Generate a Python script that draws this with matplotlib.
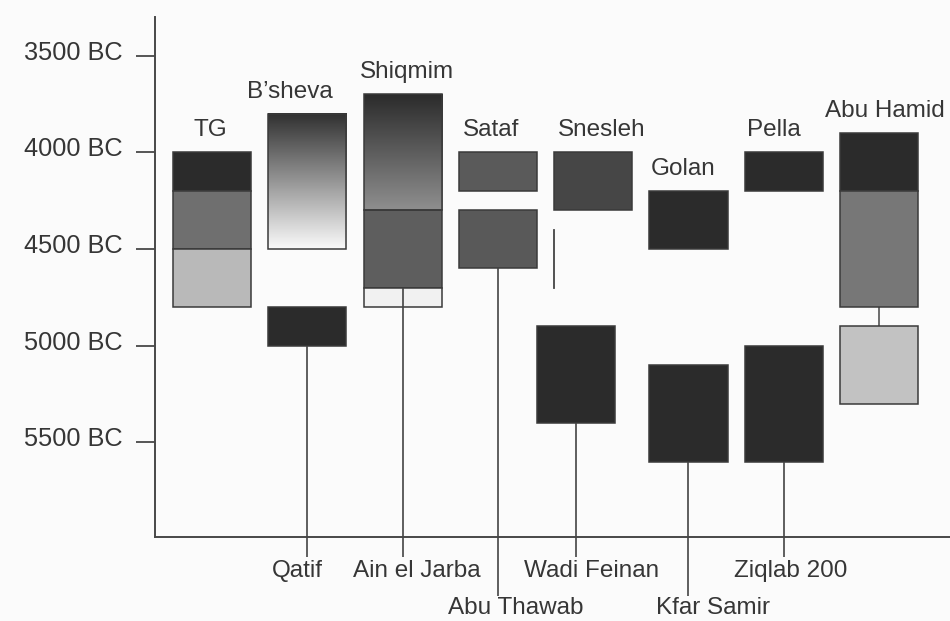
import matplotlib
matplotlib.use('Agg')
import matplotlib.pyplot as plt
from matplotlib.patches import Rectangle
from matplotlib.transforms import ScaledTranslation
import numpy as np

plt.rcParams['font.family'] = ['Liberation Sans', 'DejaVu Sans']

# ---------------- data (years BC) ----------------
year_ticks = [3500, 4000, 4500, 5000, 5500]
year_labels = [f"{y} BC" for y in year_ticks]

tg_phases = [4000, 4200, 4500, 4800]
bsheva_range = [3800, 4500]
qatif_range = [4800, 5000]
shiqmim_phases = [3700, 4300, 4700, 4800]
sataf_range = [4000, 4200]
abu_thawab_range = [4300, 4600]
snesleh_range = [4000, 4300]
snesleh_extra = [4400, 4700]
wadi_feinan_range = [4900, 5400]
golan_range = [4200, 4500]
kfar_samir_range = [5100, 5600]
pella_range = [4000, 4200]
ziqlab_range = [5000, 5600]
abu_hamid_phases = [3900, 4200, 4800]
abu_hamid_lower = [4900, 5300]

top_sites = ["TG", "B\u2019sheva", "Shiqmim", "Sataf", "Snesleh", "Golan", "Pella", "Abu Hamid"]
top_site_tops = [tg_phases[0], bsheva_range[0], shiqmim_phases[0], sataf_range[0],
                 snesleh_range[0], golan_range[0], pella_range[0], abu_hamid_phases[0]]

bottom_sites = ["Qatif", "Ain el Jarba", "Abu Thawab", "Wadi Feinan", "Kfar Samir", "Ziqlab 200"]
bottom_stem_starts = [qatif_range[1], shiqmim_phases[2], abu_thawab_range[1],
                      wadi_feinan_range[1], kfar_samir_range[1], ziqlab_range[1]]

# ---------------- layout / style ----------------
top_label_x = [-0.02, 0.82, 2.05, 2.93, 4.09, 4.94, 5.90, 7.06]
bottom_stem_x = [1.0, 2.0, 3.0, 3.82, 5.0, 6.0]
bottom_label_x = [0.895, 2.15, 3.19, 3.98, 5.26, 6.07]
bottom_row = [0, 0, 1, 0, 1, 0]
stem_end = [6096, 6297]
label_base = [6199, 6390]

HW = 0.41
DARK = '#2b2b2b'
EDGE = '#3a3a3a'
TXT = '#363636'
FS = 17.5
TFS = 18.3

fig = plt.figure(figsize=(9.5, 6.21), dpi=100)
fig.patch.set_facecolor('#fbfbfb')
ax = fig.add_axes([155 / 950, 1 - 537 / 621, 795 / 950, 520 / 621])
ax.set_facecolor('none')


def box(x, y0, y1, color, z=2):
    ax.add_patch(Rectangle((x - HW, y0), 2 * HW, y1 - y0, facecolor=color,
                           edgecolor=EDGE, linewidth=1.1, zorder=z))


def grad(x, y0, y1, c0, c1, z=2):
    g = np.linspace(c0, c1, 256)[:, None]
    ax.imshow(g, cmap='gray', vmin=0, vmax=1, extent=(x - HW, x + HW, y1, y0),
              origin='upper', aspect='auto', interpolation='bilinear', zorder=z)
    ax.add_patch(Rectangle((x - HW, y0), 2 * HW, y1 - y0, facecolor='none',
                           edgecolor=EDGE, linewidth=1.1, zorder=z + 0.1))


# TG
box(0, tg_phases[0], tg_phases[1], DARK)
box(0, tg_phases[1], tg_phases[2], '#6f6f6f')
box(0, tg_phases[2], tg_phases[3], '#b9b9b9')
# B'sheva / Qatif
grad(1, bsheva_range[0], bsheva_range[1], 0.19, 0.98)
box(1, qatif_range[0], qatif_range[1], DARK)
# Shiqmim
grad(2, shiqmim_phases[0], shiqmim_phases[1], 0.17, 0.56)
box(2, shiqmim_phases[1], shiqmim_phases[2], '#5e5e5e')
box(2, shiqmim_phases[2], shiqmim_phases[3], '#f1f1f1')
# Sataf / Abu Thawab
box(3, sataf_range[0], sataf_range[1], '#5a5a5a')
box(3, abu_thawab_range[0], abu_thawab_range[1], '#595959')
# Snesleh
box(4, snesleh_range[0], snesleh_range[1], '#464646')
ax.plot([4 - HW, 4 - HW], snesleh_extra, color='#444444', lw=1.3, zorder=3)
# Wadi Feinan
box(3.82, wadi_feinan_range[0], wadi_feinan_range[1], DARK)
# Golan / Kfar Samir
box(5, golan_range[0], golan_range[1], DARK)
box(5, kfar_samir_range[0], kfar_samir_range[1], DARK)
# Pella / Ziqlab
box(6, pella_range[0], pella_range[1], DARK)
box(6, ziqlab_range[0], ziqlab_range[1], DARK)
# Abu Hamid
box(7, abu_hamid_phases[0], abu_hamid_phases[1], DARK)
box(7, abu_hamid_phases[1], abu_hamid_phases[2], '#777777')
ax.plot([7, 7], [abu_hamid_phases[2], abu_hamid_lower[0]], color='#555555', lw=1.2, zorder=1)
box(7, abu_hamid_lower[0], abu_hamid_lower[1], '#c2c2c2')

# stems and bottom labels
for name, x, lx, start, row in zip(bottom_sites, bottom_stem_x, bottom_label_x,
                                    bottom_stem_starts, bottom_row):
    ax.plot([x, x], [start, stem_end[row]], color='#444444', lw=1.2,
            zorder=4, clip_on=False, solid_capstyle='butt')
    ax.text(lx, label_base[row], name, ha='center', va='baseline',
            fontsize=FS, color=TXT, clip_on=False)

# top labels
for name, lx, top in zip(top_sites, top_label_x, top_site_tops):
    ax.annotate(name, (lx, top), xytext=(0, 11.5), textcoords='offset points',
                ha='center', va='baseline', fontsize=FS, color=TXT,
                annotation_clip=False)

# axes
ax.set_xlim(-0.598, 7.744)
ax.set_ylim(5990, 3300)
for s in ['top', 'right']:
    ax.spines[s].set_visible(False)
for s in ['left', 'bottom']:
    ax.spines[s].set_color('#484848')
    ax.spines[s].set_linewidth(1.4)
ax.set_xticks([])
ax.set_yticks(year_ticks)
ax.set_yticklabels(year_labels, fontsize=TFS, color=TXT)
ax.tick_params(axis='y', direction='out', length=13.5, width=1.3,
               color='#484848', pad=10)
for lab in ax.get_yticklabels():
    lab.set_transform(lab.get_transform() + ScaledTranslation(0, 4 / 72, fig.dpi_scale_trans))

fig.savefig('out.png', dpi=100, facecolor=fig.get_facecolor())
